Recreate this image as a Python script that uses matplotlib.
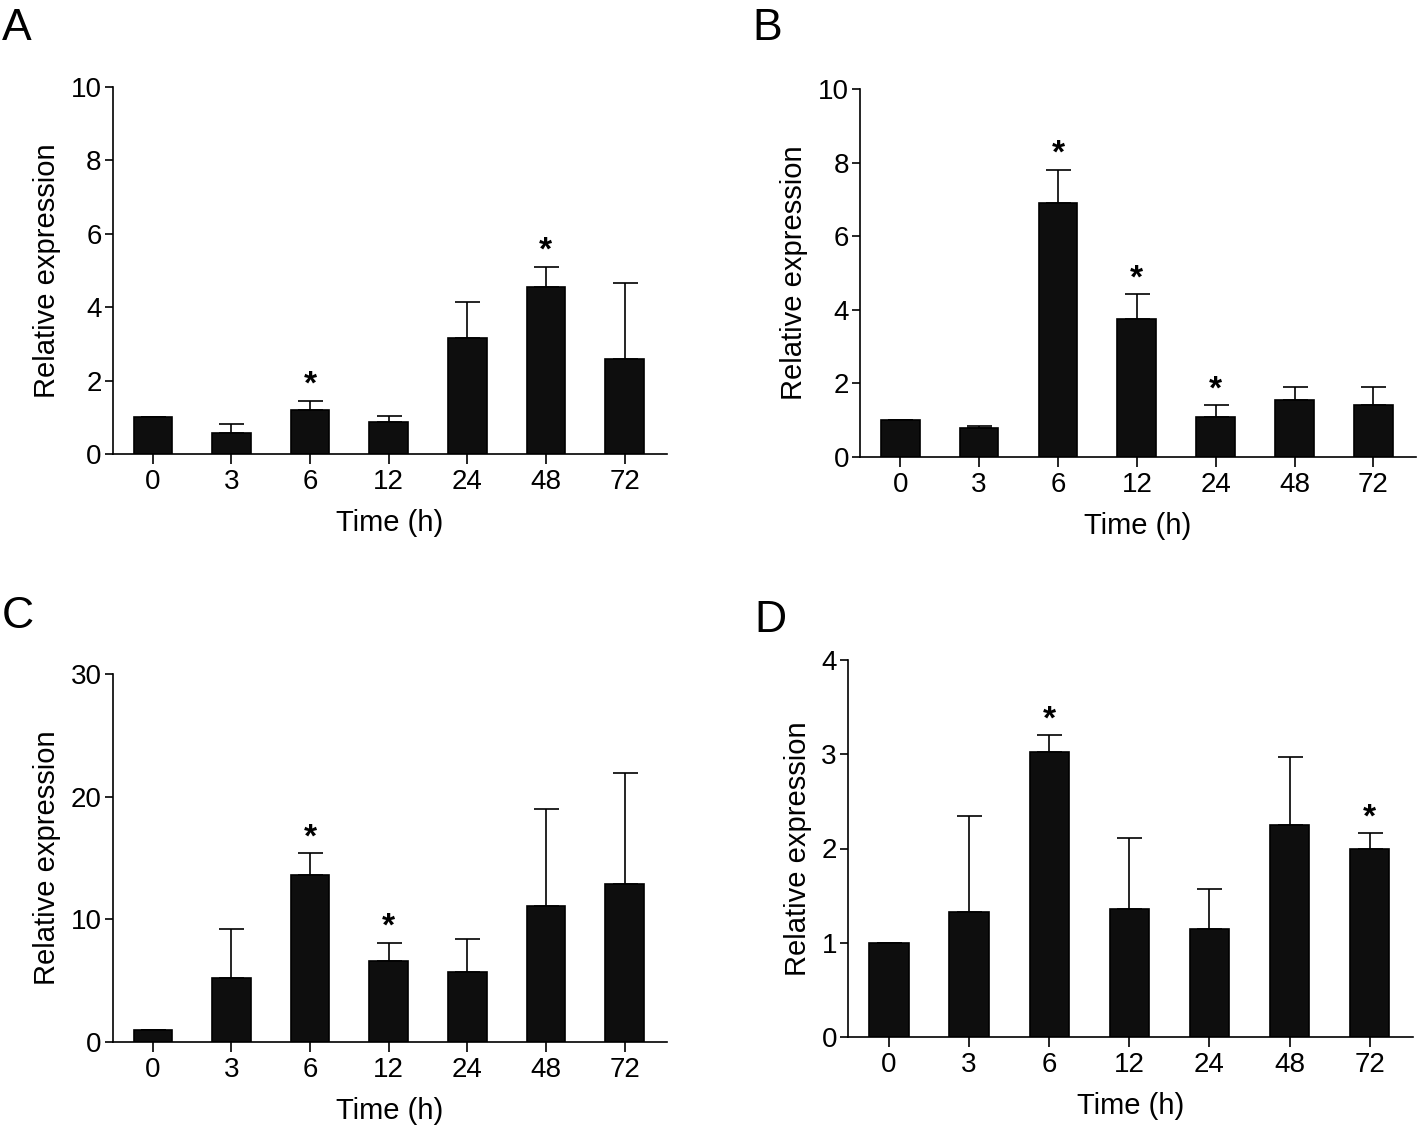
import numpy as np
import matplotlib
matplotlib.use("Agg")
import matplotlib.pyplot as plt

plt.rcParams['font.family'] = ['Liberation Sans', 'DejaVu Sans']

# time points (h)
times = ['0', '3', '6', '12', '24', '48', '72']

# panel A
a_mean = [1.0, 0.57, 1.2, 0.86, 3.15, 4.55, 2.6]
a_top = [1.0, 0.82, 1.45, 1.03, 4.15, 5.1, 4.65]
a_star = [False, False, True, False, False, True, False]

# panel B
b_mean = [1.0, 0.78, 6.9, 3.75, 1.08, 1.55, 1.4]
b_top = [1.0, 0.85, 7.8, 4.42, 1.4, 1.9, 1.9]
b_star = [False, False, True, True, True, False, False]

# panel C
c_mean = [1.0, 5.2, 13.6, 6.6, 5.7, 11.1, 12.9]
c_top = [1.0, 9.2, 15.4, 8.1, 8.4, 19.0, 21.9]
c_star = [False, False, True, True, False, False, False]

# panel D
d_mean = [1.0, 1.33, 3.02, 1.36, 1.15, 2.25, 2.0]
d_top = [1.0, 2.35, 3.2, 2.11, 1.57, 2.97, 2.16]
d_star = [False, False, True, False, False, False, True]

panels = [
    ('A', a_mean, a_top, a_star, 10, [0, 2, 4, 6, 8, 10]),
    ('B', b_mean, b_top, b_star, 10, [0, 2, 4, 6, 8, 10]),
    ('C', c_mean, c_top, c_star, 30, [0, 10, 20, 30]),
    ('D', d_mean, d_top, d_star, 4, [0, 1, 2, 3, 4]),
]

W, H = 1418, 1129
fig = plt.figure(figsize=(W / 100, H / 100), dpi=100)

# axes boxes in pixels: left, right, top (max tick), bottom (zero)
boxes = {
    'A': (112.7, 667, 87, 454),
    'B': (860, 1416, 89, 457),
    'C': (112.7, 667, 674, 1042),
    'D': (848, 1413, 660, 1037),
}
letter_pos = {'A': (2, 8), 'B': (752, 8), 'C': (2, 596), 'D': (754, 600)}

for name, mean, top, star, ymax, yticks in panels:
    l, r, t, b = boxes[name]
    ax = fig.add_axes([l / W, (H - b) / H, (r - l) / W, (b - t) / H])
    x = np.arange(len(times))
    mean = np.array(mean)
    err = np.array(top) - mean
    ax.bar(x, mean, width=0.49, color='#0e0e0e', edgecolor='black', linewidth=1.2, zorder=2)
    ax.errorbar(x, mean, yerr=[np.zeros_like(err), err], fmt='none', ecolor='black',
                elinewidth=1.2, capsize=9, capthick=1.2, zorder=1)
    for xi, ti, s in zip(x, top, star):
        if s:
            ax.annotate('*', (xi, ti), xytext=(0, 0), textcoords='offset points',
                        ha='center', va='bottom', fontsize=24, fontweight='bold')
    ax.set_xlim(-0.51, 6.54)
    ax.set_ylim(0, ymax)
    ax.set_yticks(yticks)
    ax.set_xticks(x)
    ax.set_xticklabels(times)
    for sp in ['top', 'right']:
        ax.spines[sp].set_visible(False)
    for sp in ['left', 'bottom']:
        ax.spines[sp].set_linewidth(1.2)
    ax.tick_params(axis='both', direction='out', width=1.2, labelsize=20)
    ax.tick_params(axis='x', length=7, pad=4)
    ax.tick_params(axis='y', length=6, pad=2)
    ax.set_ylabel('Relative expression', fontsize=21, labelpad=7)
    ax.set_xlabel('Time (h)', fontsize=21, labelpad=10)
    lx, ly = letter_pos[name]
    fig.text(lx / W, 1 - ly / H, name, fontsize=32, ha='left', va='top')

fig.savefig('out.png', dpi=100)
